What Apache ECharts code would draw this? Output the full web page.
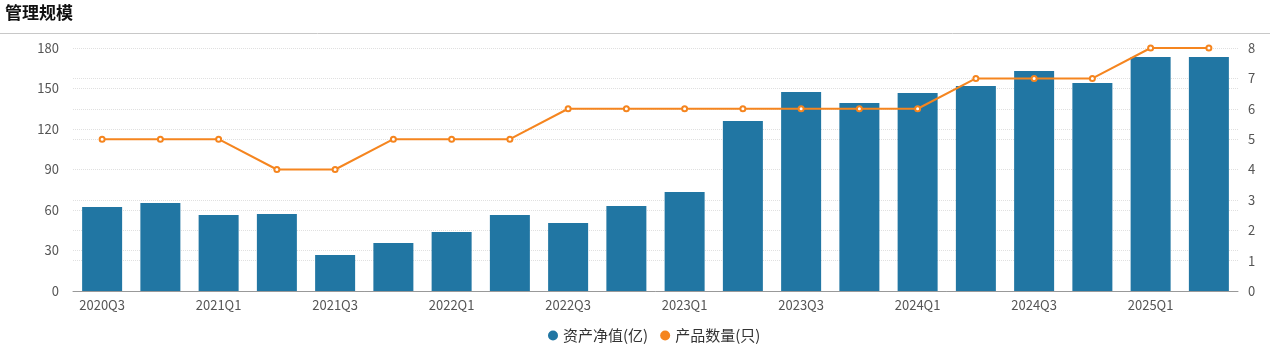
<!DOCTYPE html>
<html><head><meta charset="utf-8">
<script src="https://cdn.jsdelivr.net/npm/echarts@6/dist/echarts.min.js"></script>
<style>html,body{margin:0;padding:0;background:#fff;}#c{width:1270px;height:356px;}</style>
</head><body><div id="c"></div>
<script>
var categories = ['2020Q3','2020Q4','2021Q1','2021Q2','2021Q3','2021Q4','2022Q1','2022Q2','2022Q3','2022Q4','2023Q1','2023Q2','2023Q3','2023Q4','2024Q1','2024Q2','2024Q3','2024Q4','2025Q1','2025Q2'];
var netAssets = [62.2,65.2,56.3,57,26.7,35.6,43.7,56.3,50.4,63,73.3,125.9,147.4,139.3,146.7,151.9,163,154,173.3,173.3];
var productCount = [5,5,5,4,4,5,5,5,6,6,6,6,6,6,6,7,7,7,8,8];
var ff = '"Noto Sans CJK SC", "Noto Sans", sans-serif';
var chart = echarts.init(document.getElementById('c'));
chart.setOption({
  animation:false,
  textStyle:{fontFamily:ff},
  graphic:[
    {type:'text',left:5,top:4,style:{text:'管理规模',font:'bold 17px '+ff,fill:'#111'}},
    {type:'line',shape:{x1:0,y1:33.5,x2:1270,y2:33.5},style:{stroke:'#c8c8c8',lineWidth:1}}
  ],
  grid:{left:73,right:32,top:48,bottom:65},
  legend:{bottom:8,left:543,icon:'circle',itemWidth:10,itemHeight:10,itemGap:12,
    textStyle:{fontSize:15,color:'#333',fontFamily:ff},
    data:['资产净值(亿)','产品数量(只)']},
  xAxis:{type:'category',data:categories,
    axisLine:{lineStyle:{color:'#999'}},
    axisTick:{interval:1,lineStyle:{color:'#999'}},
    axisLabel:{interval:1,color:'#555',fontSize:13,margin:8}},
  yAxis:[
    {type:'value',min:0,max:180,interval:30,
     axisLine:{show:false},axisTick:{show:false},
     axisLabel:{color:'#555',fontSize:13,margin:14},
     splitLine:{lineStyle:{type:'dotted',color:'#e0e0e0'}}},
    {type:'value',min:0,max:8,interval:1,
     axisLine:{show:false},axisTick:{show:false},
     axisLabel:{color:'#555',fontSize:13,margin:10},
     splitLine:{lineStyle:{type:'dotted',color:'#e0e0e0'}}}
  ],
  series:[
    {name:'资产净值(亿)',type:'bar',data:netAssets,barWidth:40,itemStyle:{color:'#2176a3'}},
    {name:'产品数量(只)',type:'line',yAxisIndex:1,data:productCount,
     symbol:'emptyCircle',symbolSize:5,lineStyle:{color:'#f5851f',width:2},
     itemStyle:{color:'#f5851f',borderWidth:1.5}}
  ]
});
</script></body></html>
